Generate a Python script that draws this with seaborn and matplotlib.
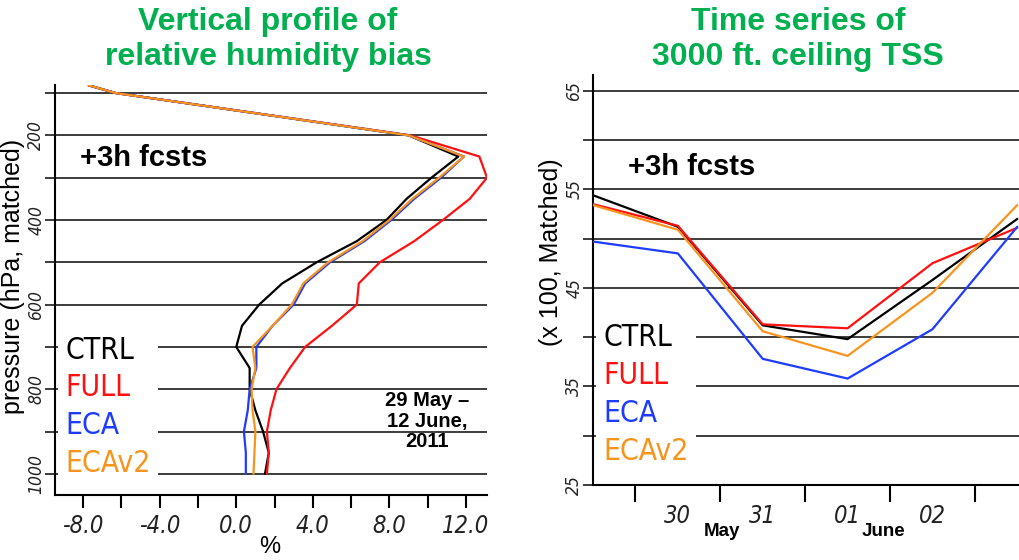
import numpy as np
import pandas as pd
import matplotlib
matplotlib.use('Agg')
import matplotlib.pyplot as plt
from matplotlib import font_manager as fm
import seaborn as sns

# left panel: relative humidity bias (%) vs pressure level (hPa)
levels = [82, 100, 200, 250, 300, 350, 400, 450, 500, 550, 600, 650, 700, 750, 800, 850, 900, 950, 1000]
rh_ctrl = [-7.7, -6.3, 9.0, 11.6, 10.2, 8.9, 7.85, 6.3, 4.2, 2.4, 1.2, 0.3, 0.0, 0.7, 0.7, 1.0, 1.4, 1.7, 1.5]
rh_full = [-7.7, -6.3, 9.1, 12.7, 13.1, 12.2, 10.8, 9.3, 7.5, 6.4, 6.3, 5.0, 3.6, 2.8, 2.1, 1.8, 1.6, 1.7, 1.6]
rh_eca = [-7.7, -6.3, 9.0, 11.9, 10.7, 9.3, 8.1, 6.7, 4.9, 3.6, 3.0, 1.9, 1.05, 1.05, 0.7, 0.6, 0.4, 0.5, 0.5]
rh_ecav2 = [-7.7, -6.3, 9.0, 11.9, 10.6, 9.2, 8.0, 6.6, 4.8, 3.5, 2.9, 1.9, 0.85, 1.0, 0.8, 0.85, 1.0, 0.95, 0.9]

# right panel: 3000 ft ceiling TSS (x100), daily values, 29 May .. 03 June
days = [0, 1, 2, 3, 4, 5]
tss_ctrl = [54.4, 51.2, 41.2, 39.8, 45.8, 52.0]
tss_full = [53.5, 51.3, 41.3, 40.9, 47.5, 51.1]
tss_eca = [49.7, 48.5, 37.8, 35.8, 40.8, 51.2]
tss_ecav2 = [53.4, 50.9, 40.6, 38.1, 44.5, 53.4]
day_labels = ['30', '31', '01', '02']

runs = ['CTRL', 'FULL', 'ECA', 'ECAv2']
colors = {'CTRL': '#000000', 'FULL': '#ff1010', 'ECA': '#1e3cff', 'ECAv2': '#f7941d'}

sns.set_style('white')
plt.rcParams['font.family'] = ['Liberation Sans', 'DejaVu Sans']
plt.rcParams['text.color'] = 'black'

# look for a narrow face; otherwise shrink a normal one
fonts = fm.fontManager.ttflist
narrow_fam, narrow_stretch, shrink = None, 'normal', 0.8
for f in fonts:
    if 'Narrow' in f.name and f.name.startswith('Liberation'):
        narrow_fam, shrink = f.name, 1.0
        break
if narrow_fam is None:
    for f in fonts:
        if f.stretch in ('condensed', 'semi-condensed') or 'Condensed' in f.name:
            narrow_fam, narrow_stretch, shrink = f.name, 'condensed', 1.0
            break
if narrow_fam is None:
    narrow_fam = 'Liberation Sans'


def nfont(size, style='normal'):
    return fm.FontProperties(family=[narrow_fam, 'DejaVu Sans'], stretch=narrow_stretch,
                             style=style, size=size * shrink)


grid_col = '#3c3c3c'
green = '#00b050'

fig = plt.figure(figsize=(10.19, 5.6), dpi=100)
W, H = 1019.0, 560.0
ax1 = fig.add_axes([55 / W, 1 - 495 / H, (487 - 55) / W, (495 - 85) / H])
ax2 = fig.add_axes([593 / W, 1 - 485 / H, (1019 - 593) / W, (485 - 75) / H])

# ---- vertical profile
prof = {'CTRL': rh_ctrl, 'FULL': rh_full, 'ECA': rh_eca, 'ECAv2': rh_ecav2}
for r in runs:
    sns.lineplot(x=prof[r], y=levels, orient='y', sort=False, color=colors[r],
                 lw=1.6, ax=ax1, label=r, zorder=3)
ax1.set_xlim(-9.47, 13.1)
ax1.set_ylim(1050, 81)
ax1.set_xticks([-8, -4, 0, 4, 8, 12])
ax1.set_xticklabels(['-8.0', '-4.0', '0.0', '4.0', '8.0', '12.0'])
ax1.set_xticks([-6, -2, 2, 6, 10], minor=True)
ax1.set_yticks([200, 400, 600, 800, 1000])
ax1.set_yticks([100, 300, 500, 700, 900], minor=True)
ax1.set_xlabel('%', fontsize=17, color='black')
ax1.xaxis.set_label_coords((270 - 55) / 432, (495 - 536) / 410)
ax1.set_ylabel('pressure (hPa, matched)', fontsize=18, color='black')
ax1.yaxis.set_label_coords(-0.07, 0.534)
ax1.text((80 - 55) / 432, (495 - 158) / 410, '+3h fcsts', transform=ax1.transAxes,
         fontsize=21, fontweight='bold', ha='left', va='center', color='black')
ax1.text((427 - 55) / 432, (495 - 421) / 410, '29 May \u2013\n12 June,\n2011',
         transform=ax1.transAxes, fontsize=14.5, fontweight='bold', ha='center',
         va='center', linespacing=1.1, color='black')

# ---- time series
ts = {'CTRL': tss_ctrl, 'FULL': tss_full, 'ECA': tss_eca, 'ECAv2': tss_ecav2}
for r in runs:
    sns.lineplot(x=days, y=ts[r], color=colors[r], lw=1.6, ax=ax2, label=r, zorder=3)
ax2.set_xlim(0, 5.02)
ax2.set_ylim(25, 66.6)
ax2.set_yticks([25, 35, 45, 55, 65])
ax2.set_yticks([30, 40, 50, 60], minor=True)
ax2.set_xticks([0.5, 1.5, 2.5, 3.5, 4.5])
ax2.set_xticklabels([])
ax2.set_xticks([1, 2, 3, 4], minor=True)
ax2.set_xticklabels(day_labels, minor=True)
ax2.set_xlabel('')
ax2.set_ylabel('(x 100, Matched)', fontsize=18, color='black')
ax2.yaxis.set_label_coords(-0.07, 0.568)
ax2.text((628 - 593) / 426, (485 - 167) / 410, '+3h fcsts', transform=ax2.transAxes,
         fontsize=21, fontweight='bold', ha='left', va='center', color='black')
ax2.text((722 - 593) / 426, (485 - 532) / 410, 'May', transform=ax2.transAxes,
         fontsize=13.5, fontweight='bold', ha='center', va='center', color='black')
ax2.text((883 - 593) / 426, (485 - 532) / 410, 'June', transform=ax2.transAxes,
         fontsize=13.5, fontweight='bold', ha='center', va='center', color='black')

for ax in (ax1, ax2):
    sns.despine(ax=ax)
    for s in ('left', 'bottom'):
        ax.spines[s].set_color('black')
        ax.spines[s].set_linewidth(1.5)
    ax.grid(axis='y', which='both', color=grid_col, lw=1.4, zorder=0)
    ax.grid(axis='x', visible=False)
    ax.tick_params(axis='y', which='both', direction='out', left=True, length=7,
                   width=1.4, color=grid_col, pad=0, labelcolor='#222222')
    ax.tick_params(axis='x', which='both', direction='out', bottom=True, length=9,
                   width=1.5, color='black', pad=5, labelcolor='#222222')
    for lab in ax.get_yticklabels():
        lab.set_rotation(90)
        lab.set_va('center')
        lab.set_fontproperties(nfont(12.5, 'italic'))
    for lab in ax.get_xticklabels() + ax.get_xticklabels(minor=True):
        lab.set_fontproperties(nfont(17, 'italic'))
    leg = ax.legend(handlelength=0, handletextpad=0, labelcolor='linecolor',
                    frameon=True, facecolor='white', edgecolor='none', framealpha=1,
                    fancybox=False, labelspacing=0.3, borderpad=0.25,
                    borderaxespad=0.1, prop=nfont(21.5), loc='lower left')
    leg.set_zorder(2.5)
    for h in leg.legend_handles:
        h.set_visible(False)

ax2.tick_params(axis='x', which='minor', length=0, pad=14)
ax2.tick_params(axis='x', which='major', length=12)
ax1.legend_.set_bbox_to_anchor((0.0, 0.015))
ax2.legend_.set_bbox_to_anchor((0.0, 0.02))

fig.text(268 / W, 1 - 22 / H, 'Vertical profile of', color=green, fontsize=23,
         fontweight='bold', ha='center', va='center')
fig.text(268 / W, 1 - 57 / H, 'relative humidity bias', color=green, fontsize=23,
         fontweight='bold', ha='center', va='center')
fig.text(798 / W, 1 - 22 / H, 'Time series of', color=green, fontsize=23,
         fontweight='bold', ha='center', va='center')
fig.text(798 / W, 1 - 57 / H, '3000 ft. ceiling TSS', color=green, fontsize=23,
         fontweight='bold', ha='center', va='center')

fig.savefig('out.png', dpi=100)
